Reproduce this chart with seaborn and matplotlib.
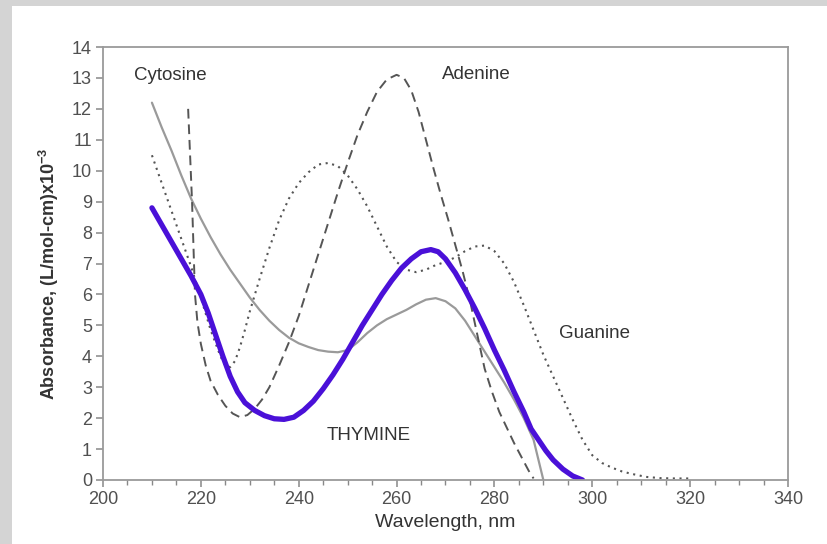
import numpy as np
import pandas as pd
import matplotlib
matplotlib.use("Agg")
import matplotlib.pyplot as plt
import seaborn as sns
from matplotlib.patches import Rectangle

# ---- data ----
thy_x = [210, 212, 214, 216, 218, 220, 221.5, 223, 224.5, 226, 227.5, 229, 231, 233, 235, 237, 239, 241, 243, 245,
         247, 249, 251, 253, 255, 257, 259, 261, 263, 265, 267, 268.5, 270, 272, 274, 276, 278, 280, 282, 284,
         286, 287.5, 289, 290.5, 292, 294, 296, 298]
thy_y = [8.8, 8.25, 7.7, 7.15, 6.6, 6.0, 5.4, 4.7, 4.0, 3.35, 2.85, 2.5, 2.25, 2.08, 1.98, 1.96, 2.03, 2.25, 2.55, 2.95,
         3.4, 3.9, 4.45, 5.0, 5.5, 6.0, 6.45, 6.85, 7.15, 7.38, 7.45, 7.38, 7.15, 6.7, 6.15, 5.55, 4.9, 4.2, 3.55, 2.85,
         2.2, 1.65, 1.3, 0.95, 0.65, 0.35, 0.13, 0.0]

cyt_x = [210, 212, 214, 216, 218, 220, 222, 224, 226, 228, 230, 232, 234, 236, 238, 240, 242, 244, 246, 248,
         250, 252, 254, 256, 258, 260, 262, 264, 266, 268, 270, 272, 274, 276, 278, 280, 282, 284, 286, 288, 289, 290]
cyt_y = [12.2, 11.4, 10.65, 9.85, 9.1, 8.45, 7.85, 7.3, 6.8, 6.35, 5.9, 5.5, 5.15, 4.85, 4.6, 4.42, 4.3, 4.2, 4.15, 4.13,
         4.2, 4.45, 4.75, 5.0, 5.2, 5.35, 5.5, 5.68, 5.83, 5.88, 5.78, 5.55, 5.15, 4.65, 4.15, 3.65, 3.15, 2.6, 2.0, 1.3, 0.65, 0.0]

gua_x = [210, 212, 214, 216, 218, 220, 222, 224, 225, 226, 227, 228, 229, 230, 232, 234, 236, 238, 240, 242,
         244, 246, 248, 250, 252, 254, 256, 258, 260, 262, 264, 266, 268, 270, 272, 274, 276, 278, 280, 282,
         284, 286, 288, 290, 292, 294, 296, 298, 300, 302, 304, 306, 308, 311, 314, 317, 320]
gua_y = [10.5, 9.6, 8.7, 7.8, 6.9, 5.9, 4.85, 4.0, 3.7, 3.65, 3.85, 4.3, 4.85, 5.45, 6.5, 7.5, 8.4, 9.1, 9.6, 9.95,
         10.2, 10.25, 10.15, 9.85, 9.4, 8.85, 8.2, 7.55, 7.05, 6.8, 6.72, 6.8, 6.95, 7.05, 7.2, 7.4, 7.55, 7.58, 7.4, 7.0,
         6.4, 5.65, 4.85, 4.05, 3.35, 2.65, 1.95, 1.3, 0.8, 0.55, 0.4, 0.28, 0.2, 0.1, 0.06, 0.05, 0.05]

ade_x = [217.4, 217.8, 218.2, 218.5, 218.8, 219.3, 220, 221, 222, 223.5, 225, 226.5, 228, 229.5, 231, 232.5, 234, 236,
         238, 240, 242, 244, 246, 248, 250, 252, 254, 256, 258, 260, 261.5, 263, 264.5, 266, 267.5, 269, 270.5,
         272, 273.5, 275, 276.5, 278, 279.5, 281, 282.5, 284, 285, 286, 287, 288]
ade_y = [12.0, 10.5, 9.0, 7.5, 6.0, 5.1, 4.4, 3.7, 3.2, 2.75, 2.4, 2.15, 2.03, 2.1, 2.3, 2.6, 3.0, 3.7,
         4.45, 5.3, 6.3, 7.3, 8.3, 9.3, 10.25, 11.15, 11.9, 12.55, 12.95, 13.1, 13.0, 12.6, 11.9, 11.0, 10.1, 9.25, 8.45,
         7.6, 6.75, 5.8, 4.7, 3.6, 2.85, 2.2, 1.7, 1.2, 0.9, 0.6, 0.3, 0.05]

x_ticks = [200, 220, 240, 260, 280, 300, 320, 340]
y_ticks = list(range(0, 15))

labels = ["Cytosine", "Adenine", "Guanine", "THYMINE"]
label_pos_x = [213.8, 276.4, 300.5, 254.3]
label_pos_y = [13.07, 13.1, 4.75, 1.45]

# ---- styling ----
sns.set_theme(style="ticks")
plt.rcParams['font.family'] = ['Liberation Sans', 'DejaVu Sans']
plt.rcParams['mathtext.fontset'] = 'custom'
plt.rcParams['mathtext.rm'] = 'Liberation Sans'
plt.rcParams['mathtext.bf'] = 'Liberation Sans:bold'

fig = plt.figure(figsize=(8.27, 5.44), dpi=100)
fig.patch.set_facecolor('#d4d4d4')
fig.patches.append(Rectangle((12 / 827, 0), 1, 1 - 6 / 544, transform=fig.transFigure,
                             facecolor='white', edgecolor='none', zorder=-10))
ax = fig.add_axes([103 / 827, 1 - 480 / 544, (788 - 103) / 827, (480 - 47) / 544])
ax.set_facecolor('white')

df_c = pd.DataFrame({"x": cyt_x, "y": cyt_y})
df_g = pd.DataFrame({"x": gua_x, "y": gua_y})
df_a = pd.DataFrame({"x": ade_x, "y": ade_y})
df_t = pd.DataFrame({"x": thy_x, "y": thy_y})

sns.lineplot(data=df_c, x="x", y="y", ax=ax, color='#9a9a9a', linewidth=1.6, estimator=None)
sns.lineplot(data=df_g, x="x", y="y", ax=ax, color='#555555', linewidth=1.5,
             linestyle=(0, (1, 2.2)), estimator=None)
sns.lineplot(data=df_a, x="x", y="y", ax=ax, color='#555555', linewidth=1.4,
             linestyle=(0, (5, 3)), estimator=None)
sns.lineplot(data=df_t, x="x", y="y", ax=ax, color='#4a10d8', linewidth=3.8,
             estimator=None, solid_capstyle='round', solid_joinstyle='round')

for lab, lx, ly in zip(labels, label_pos_x, label_pos_y):
    ax.text(lx, ly, lab, ha='center', va='center', fontsize=13.5, color='#333333')

ax.set_xlim(200, 340)
ax.set_ylim(0, 14)
ax.set_xticks(x_ticks)
ax.set_xticks(np.arange(200, 341, 5), minor=True)
ax.set_yticks(y_ticks)
ax.tick_params(axis='both', which='major', direction='out', length=5, width=1.1,
               color='#888888', labelcolor='#505050', labelsize=13, pad=3)
ax.tick_params(axis='x', which='minor', direction='out', length=3.5, width=1.0, color='#888888')
for s in ax.spines.values():
    s.set_visible(True)
    s.set_color('#9a9a9a')
    s.set_linewidth(1.3)

ax.set_xlabel("Wavelength, nm", fontsize=14, color='#333333', labelpad=4)
ax.set_ylabel(r"Absorbance, (L/mol-cm)x10$^{\mathbf{-3}}$", fontsize=13, color='#333333',
              fontweight='bold')
ax.yaxis.set_label_coords(-0.062, 0.475)

fig.savefig("out.png", dpi=100, facecolor=fig.get_facecolor())
